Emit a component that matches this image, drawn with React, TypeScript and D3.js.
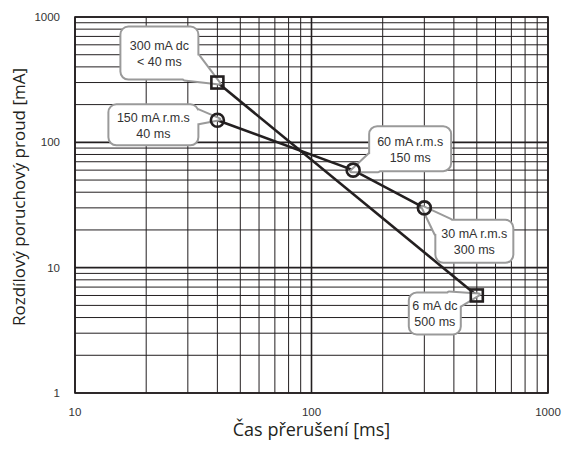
import React from "react";
import * as d3 from "d3";

// values
const xDomain = [10, 1000];
const yDomain = [1, 1000];
const xTickLabels = [10, 100, 1000];
const yTickLabels = [1, 10, 100, 1000];

const dcTimes = [40, 500];
const dcCurrents = [300, 6];
const dcLabels = [["300 mA dc", "< 40 ms"], ["6 mA dc", "500 ms"]];

const acTimes = [40, 150, 300];
const acCurrents = [150, 60, 30];
const acLabels = [["150 mA r.m.s", "40 ms"], ["60 mA r.m.s", "150 ms"], ["30 mA r.m.s", "300 ms"]];

// callout box placement relative to its marker, and tail base relative to box
const dcBoxes = [
  { dx: -97, dy: -56, w: 78, h: 53, b1: [78, 29], b2: [64, 53] },
  { dx: -68, dy: -3, w: 52, h: 42, b1: [40, 0], b2: [52, 13] },
];
const acBoxes = [
  { dx: -109, dy: -16, w: 90, h: 41, b1: [90, 6], b2: [90, 19] },
  { dx: 16, dy: -44, w: 82, h: 45, b1: [0, 28], b2: [9, 45] },
  { dx: 11, dy: 12, w: 78, h: 43, b1: [0, 14], b2: [15, 0] },
];

const W = 562;
const H = 449;
const margin = { top: 17, right: 14, bottom: 56, left: 75 };
const ink = "#231f20";
const calloutStroke = "#9a9a9a";

function minorTicks(lo: number, hi: number) {
  const out: number[] = [];
  for (let d = lo; d < hi; d *= 10) {
    for (let k = 2; k <= 9; k++) out.push(d * k);
  }
  return out;
}

function Callout({ mx, my, box, lines }: any) {
  const x0 = mx + box.dx;
  const y0 = my + box.dy;
  const b1 = [x0 + box.b1[0], y0 + box.b1[1]];
  const b2 = [x0 + box.b2[0], y0 + box.b2[1]];
  const tip = [mx - Math.sign(box.dx + box.w / 2) * 2, my - Math.sign(box.dy + box.h / 2) * 1];
  const cx = x0 + box.w / 2;
  const cy = y0 + box.h / 2;
  const inward = (p: number[]) => {
    const vx = cx - p[0];
    const vy = cy - p[1];
    const l = Math.hypot(vx, vy);
    return [p[0] + (vx / l) * 4, p[1] + (vy / l) * 4];
  };
  const tail = [b1, tip, b2].map((p) => p.join(",")).join(" ");
  const cover = [b1, tip, b2, inward(b2), inward(b1)].map((p) => p.join(",")).join(" ");
  return (
    <g>
      <polygon points={tail} fill="#fff" stroke={calloutStroke} strokeWidth={4} strokeLinejoin="round" />
      <rect x={x0} y={y0} width={box.w} height={box.h} rx={8} ry={8} fill="#fff" stroke={calloutStroke} strokeWidth={2} />
      <polygon points={cover} fill="#fff" />
      {lines.map((t: string, i: number) => (
        <text
          key={i}
          x={cx}
          y={cy + (i === 0 ? -3 : 13)}
          textAnchor="middle"
          fontFamily="'Liberation Sans', Arial, sans-serif"
          fontSize={12.5}
          fill="#333"
        >
          {t}
        </text>
      ))}
    </g>
  );
}

export default function App() {
  const x = d3.scaleLog().domain(xDomain).range([margin.left, W - margin.right]);
  const y = d3.scaleLog().domain(yDomain).range([H - margin.bottom, margin.top]);
  const [x0, x1] = x.range();
  const [y0, y1] = y.range();

  const line = d3
    .line<[number, number]>()
    .x((d) => x(d[0]))
    .y((d) => y(d[1]));

  const dcPts = dcTimes.map((t, i) => [t, dcCurrents[i]] as [number, number]);
  const acPts = acTimes.map((t, i) => [t, acCurrents[i]] as [number, number]);

  return (
    <svg width={W} height={H} style={{ position: "absolute", left: 0, top: 0 }}>
      <rect width={W} height={H} fill="#fff" />
      {/* grid */}
      <g stroke={ink}>
        {minorTicks(xDomain[0], xDomain[1]).map((v) => (
          <line key={"vx" + v} x1={x(v)} x2={x(v)} y1={y0} y2={y1} strokeWidth={1} />
        ))}
        {minorTicks(yDomain[0], yDomain[1]).map((v) => (
          <line key={"hy" + v} x1={x0} x2={x1} y1={y(v)} y2={y(v)} strokeWidth={1} />
        ))}
        {xTickLabels.map((v) => (
          <line key={"mx" + v} x1={x(v)} x2={x(v)} y1={y0} y2={y1} strokeWidth={1.6} />
        ))}
        {yTickLabels.map((v) => (
          <line key={"my" + v} x1={x0} x2={x1} y1={y(v)} y2={y(v)} strokeWidth={1.6} />
        ))}
        <rect x={x0} y={y1} width={x1 - x0} height={y0 - y1} fill="none" strokeWidth={1.6} />
      </g>

      {/* tick labels */}
      <g fontFamily="'Liberation Sans', Arial, sans-serif" fontSize={11.5} fill="#333">
        {yTickLabels.map((v) => (
          <text key={"yl" + v} x={x0 - 15} y={y(v) + 4} textAnchor="end">
            {v}
          </text>
        ))}
        {xTickLabels.map((v) => (
          <text key={"xl" + v} x={x(v)} y={y0 + 23} textAnchor="middle">
            {v}
          </text>
        ))}
      </g>

      {/* axis titles */}
      <text
        x={(x0 + x1) / 2}
        y={H - 13}
        textAnchor="middle"
        fontFamily="'Open Sans', sans-serif"
        fontSize={18}
        fill={ink}
      >
        Čas přerušení [ms]
      </text>
      <text
        transform={`translate(25, ${(y0 + y1) / 2 - 8}) rotate(-90)`}
        textAnchor="middle"
        fontFamily="'Open Sans', sans-serif"
        fontSize={17}
        fill={ink}
      >
        Rozdílový poruchový proud [mA]
      </text>

      {/* curves */}
      <path d={line(dcPts) || ""} fill="none" stroke={ink} strokeWidth={2.6} />
      <path d={line(acPts) || ""} fill="none" stroke={ink} strokeWidth={2.6} />

      {/* callouts */}
      {dcPts.map((p, i) => (
        <Callout key={"dcc" + i} mx={x(p[0])} my={y(p[1])} box={dcBoxes[i]} lines={dcLabels[i]} />
      ))}
      {acPts.map((p, i) => (
        <Callout key={"acc" + i} mx={x(p[0])} my={y(p[1])} box={acBoxes[i]} lines={acLabels[i]} />
      ))}

      {/* markers */}
      {dcPts.map((p, i) => (
        <rect
          key={"sq" + i}
          x={x(p[0]) - 6}
          y={y(p[1]) - 6}
          width={12}
          height={12}
          fill="none"
          stroke={ink}
          strokeWidth={2.6}
        />
      ))}
      {acPts.map((p, i) => (
        <circle key={"ci" + i} cx={x(p[0])} cy={y(p[1])} r={6.5} fill="none" stroke={ink} strokeWidth={2.6} />
      ))}
    </svg>
  );
}
